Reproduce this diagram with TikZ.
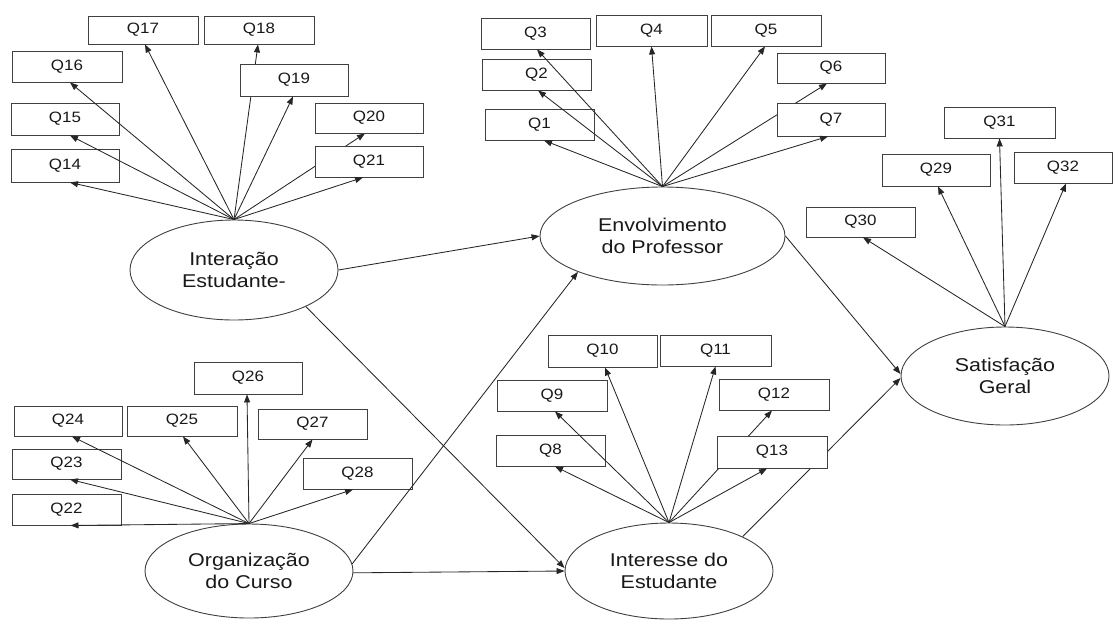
\documentclass[tikz,border=0pt]{standalone}
\usepackage{fontspec}
\setmainfont{Liberation Sans}
\usetikzlibrary{shapes.geometric,arrows.meta,backgrounds}
\newcommand{\qsx}[1]{\scalebox{1.13}[1]{#1}}
\newcommand{\esx}[1]{\scalebox{1.16}[1]{#1}}
\begin{document}
\begin{tikzpicture}[x=1pt,y=-1pt,
  qbox/.style={draw=black!75,line width=0.9pt,fill=white,inner sep=0pt,
    font=\fontsize{15}{18}\selectfont,text=black!90},
  lat/.style={ellipse,draw=black!75,line width=0.9pt,fill=white,inner sep=0pt,
    align=center,font=\fontsize{18.5}{22.3}\selectfont,text=black!90},
  ln/.style={draw=black!85,line width=0.85pt,-{Triangle[length=8pt,width=6pt]}}]
\useasboundingbox (0,0) rectangle (1113,619);
% box macro: corners
\def\qb#1#2#3#4#5#6{\node[qbox,minimum width=#4-#2,minimum height=#5-#3] (#1) at ({(#2+#4)/2},{(#3+#5)/2}) {\qsx{#6}};}
\qb{q17}{88}{16}{198}{44}{Q17}
\qb{q18}{204}{16}{314}{44}{Q18}
\qb{q16}{12}{51}{122}{82}{Q16}
\qb{q19}{240}{64}{348}{96}{Q19}
\qb{q15}{11}{103}{119}{135}{Q15}
\qb{q20}{315}{103}{423}{133}{Q20}
\qb{q14}{11}{149}{119}{182}{Q14}
\qb{q21}{315}{146}{423}{177}{Q21}
\qb{q3}{481}{18}{590}{49}{Q3}
\qb{q4}{596}{15}{707}{46}{Q4}
\qb{q5}{711}{15}{821}{46}{Q5}
\qb{q2}{482}{59}{591}{90}{Q2}
\qb{q1}{485}{109}{594}{140}{Q1}
\qb{q6}{777}{53}{885}{83}{Q6}
\qb{q7}{777}{103}{885}{136}{Q7}
\qb{q31}{944}{107}{1055}{138}{Q31}
\qb{q29}{882}{154}{990}{186}{Q29}
\qb{q32}{1014}{152}{1112}{183}{Q32}
\qb{q30}{806}{207}{915}{237}{Q30}
\qb{q26}{194}{362}{302}{394}{Q26}
\qb{q24}{14}{406}{122}{436}{Q24}
\qb{q25}{127}{406}{237}{436}{Q25}
\qb{q27}{258}{409}{367}{439}{Q27}
\qb{q23}{12}{449}{121}{479}{Q23}
\qb{q28}{303}{458}{412}{489}{Q28}
\qb{q22}{12}{494}{121}{525}{Q22}
\qb{q10}{548}{335}{657}{367}{Q10}
\qb{q11}{660}{335}{771}{366}{Q11}
\qb{q9}{497}{380}{607}{411}{Q9}
\qb{q12}{719}{379}{829}{410}{Q12}
\qb{q8}{496}{435}{605}{466}{Q8}
\qb{q13}{717}{436}{827}{468}{Q13}
% latent variables
\node[lat,minimum width=208,minimum height=100] (ie) at (234,270) {\esx{Interação}\\\esx{Estudante-}};
\node[lat,minimum width=245,minimum height=98] (env) at (662.5,236) {\esx{Envolvimento}\\\esx{do Professor}};
\node[lat,minimum width=208,minimum height=98] (sat) at (1005,376) {\esx{Satisfação}\\\esx{Geral}};
\node[lat,minimum width=208,minimum height=94] (org) at (249,571) {\esx{Organização}\\\esx{do Curso}};
\node[lat,minimum width=208,minimum height=96] (int) at (669,571) {\esx{Interesse do}\\\esx{Estudante}};
% lines drawn over boxes
\foreach \q/\s in {q14/5,q15/5,q16/3,q17/2,q19/-1,q21/-6}
  \draw[ln] (ie.north) -- ([xshift=\s pt]\q.south);
\foreach \q/\s in {q1/4.5,q2/1.5,q3/1.5,q4/0,q5/-1,q7/-3}
  \draw[ln] (env.north) -- ([xshift=\s pt]\q.south);
\foreach \q/\s in {q8/4.5,q9/3,q10/2.5,q11/0,q13/-5}
  \draw[ln] (int.north) -- ([xshift=\s pt]\q.south);
\foreach \q/\s in {q22/4,q23/3.5,q24/4,q25/1,q26/-1,q27/0,q28/-4.5}
  \draw[ln] (org.north) -- ([xshift=\s pt]\q.south);
\foreach \q/\s in {q29/2,q30/2.5,q31/0,q32/3}
  \draw[ln] (sat.north) -- ([xshift=\s pt]\q.south);
\draw[ln] (ie.east) -- (env.west);
\draw[ln] (ie.-27) -- ([yshift=3pt]int.west);
\draw[ln] (org.-1) -- (int.west);
\draw[ln] (org.4) -- (env.203);
\draw[ln] (env.east) -- ([yshift=2pt]sat.west);
% lines hidden behind boxes
\begin{pgfonlayer}{background}
\draw[ln] (ie.north) -- ([xshift=-1pt]q18.south);
\draw[ln] (ie.north) -- ([xshift=-4pt]q20.south);
\draw[ln] (env.north) -- ([xshift=-4pt]q6.south);
\draw[ln] (int.north) -- ([xshift=-2pt]q12.south);
\draw[ln] (int.25) -- ([yshift=-2pt]sat.west);
\end{pgfonlayer}
\end{tikzpicture}
\end{document}
